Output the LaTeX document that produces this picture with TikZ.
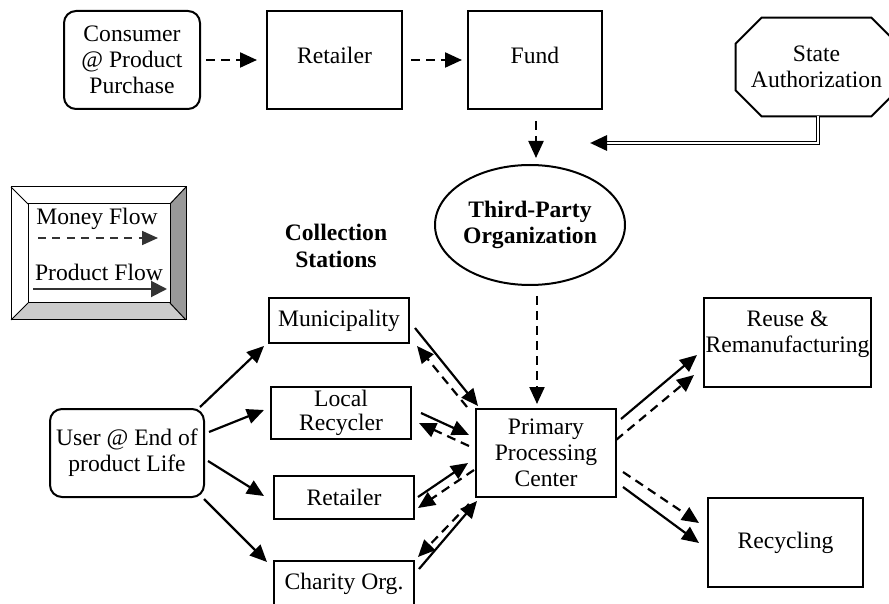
\documentclass[tikz,border=0pt]{standalone}
\usepackage{fontspec}
\setmainfont{Liberation Serif}
\usetikzlibrary{arrows.meta,calc,shapes.geometric}
\definecolor{legdark}{RGB}{153,153,153}
\definecolor{leglight}{RGB}{204,204,204}
\tikzset{
  box/.style={draw, line width=1pt, inner sep=0pt, align=center},
  rbox/.style={box, rounded corners=6pt},
  bigtip/.style={-{Triangle[length=8.5pt,width=7.5pt]}},
  prod/.style={bigtip, line width=1.1pt},
  money/.style={bigtip, line width=1.1pt, dash pattern=on 4.5pt off 3pt},
  legframe/.style={line width=0.5pt},
}
\begin{document}
\begin{tikzpicture}[x=0.5pt,y=-0.5pt, font=\fontsize{11.8}{13}\selectfont]
\useasboundingbox (0,0) rectangle (889,604);

% ---------- top row ----------
\node[rbox, minimum width=68pt, minimum height=49pt] (cons) at (132,60) {Consumer\\@ Product\\Purchase};
\node[box, minimum width=67.5pt, minimum height=49pt, text depth=5pt] (ret1) at (334.5,60) {Retailer};
\node[box, minimum width=67pt, minimum height=49pt, text depth=5pt] (fund) at (535,60) {Fund};

% State Authorization (octagon)
\node[inner sep=0pt, minimum width=80.5pt, minimum height=49pt, align=center] (state) at (816.5,67) {State\\Authorization};
\draw[line width=1pt]
  ([shift={(26,0)}]state.north west) -- ([shift={(-26,0)}]state.north east)
  -- ([shift={(0,26)}]state.north east) -- ([shift={(0,-26)}]state.south east)
  -- ([shift={(-26,0)}]state.south east) -- ([shift={(26,0)}]state.south west)
  -- ([shift={(0,-26)}]state.south west) -- ([shift={(0,26)}]state.north west) -- cycle;

% Third-party organization
\node[draw, line width=1pt, ellipse, inner sep=0pt, minimum width=95pt, minimum height=60pt, align=center, font=\fontsize{11.8}{13}\selectfont\bfseries] (ell) at (530,225) {Third-Party\\Organization};

% ---------- legend ----------
\fill[white] (11,187) rectangle (186,320);
\fill[legdark] (186,187) -- (186,320) -- (170,303) -- (170,204) -- cycle;
\fill[leglight] (11,320) -- (186,320) -- (170,303) -- (28,303) -- cycle;
\draw[legframe] (11,187) rectangle (186,320);
\draw[legframe] (28,204) rectangle (170,303);
\draw[legframe] (11,187) -- (28,204) (186,187) -- (170,204) (11,320) -- (28,303) (186,320) -- (170,303);
\node (legm) at (97,219) {Money Flow};
\node (legp) at (99,272) {Product Flow};
\coordinate (lm1) at (38,238); \coordinate (lm2) at (158,238);
\coordinate (lp1) at (33,289); \coordinate (lp2) at (167,289);
\draw[-{Triangle[length=8pt,width=7pt]}, line width=0.9pt, dash pattern=on 4pt off 3.2pt, black!80] (lm1) -- (lm2);
\draw[-{Triangle[length=8pt,width=8pt]}, line width=1pt, black!80] (lp1) -- (lp2);

% ---------- lower part ----------
\node[font=\fontsize{11.8}{13.5}\selectfont\bfseries, align=center] (coll) at (336,246) {Collection\\Stations};

\node[rbox, minimum width=77pt, minimum height=44pt] (user) at (127,453) {User @ End of\\product Life};
\node[box, minimum width=70pt, minimum height=22.5pt] (muni) at (339,320.5) {Municipality};
\node[box, minimum width=70pt, minimum height=26pt, font=\fontsize{11.8}{12}\selectfont] (loc) at (341,413) {Local\\Recycler};
\node[box, minimum width=70pt, minimum height=21.5pt] (ret2) at (344,497.5) {Retailer};
\node[box, minimum width=70pt, minimum height=23pt] (char) at (344,584) {Charity Org.};
\node[box, minimum width=70pt, minimum height=44pt] (prim) at (546,453) {Primary\\Processing\\Center};
\node[box, minimum width=83.5pt, minimum height=44.5pt] (reuse) at (787.5,342.5) {Reuse \&\\Remanufacturing\\[-2pt]};
\node[box, minimum width=77.5pt, minimum height=44.5pt] (recyc) at (785.5,542.5) {Recycling};

% ---------- money flow (top) ----------
\draw[money, shorten <=2.5pt, shorten >=4.5pt] (cons) -- (ret1);
\draw[money, shorten <=4pt, shorten >=2.5pt] (ret1) -- (fund);
\draw[money] ([shift={(1,11)}]fund.south) -- ([shift={(6,-6)}]ell.north);
\coordinate (satip) at ([shift={(60,-21)}]ell.north);
\coordinate (sajoint) at ([shift={(16,0)}]satip);
\draw[double, double distance=1.3pt, line width=0.5pt] ([shift={(1.5,0)}]state.south) |- (sajoint);
\draw[-{Triangle[length=8.5pt,width=7.5pt]}, line width=1.5pt] (sajoint) -- (satip);
\draw[money] ([shift={(7,10)}]ell.south) -- ([shift={(-9,-4)}]prim.north);

% ---------- user to collection ----------
\draw[prod] ([shift={(-5,-1)}]user.north east) -- ([shift={(-4,2)}]muni.south west);
\draw[prod] ([shift={(4,-21)}]user.east) -- ([shift={(-6,-3)}]loc.west);
\draw[prod] ([shift={(3,8)}]user.east) -- ([shift={(-9,-1.5)}]ret2.west);
\draw[prod] ([shift={(-1,1)}]user.south east) -- ([shift={(-6,2)}]char.north west);

% ---------- collection <-> primary ----------
\draw[prod] ([shift={(5,7.5)}]muni.east) -- ([shift={(3,-2)}]prim.north west);
\draw[money] ([shift={(-8,-1)}]prim.north west) -- ([shift={(7,2)}]muni.south east);
\draw[prod] ([shift={(9,0)}]loc.east) -- ([shift={(-6,-18)}]prim.west);
\draw[money] ([shift={(-6,-7)}]prim.west) -- ([shift={(7,10)}]loc.east);
\draw[prod] ([shift={(3,-0.5)}]ret2.east) -- ([shift={(-7,10)}]prim.west);
\draw[money] ([shift={(-1,17)}]prim.west) -- ([shift={(3,10.5)}]ret2.east);
\draw[money] ([shift={(-6,6)}]prim.south west) -- ([shift={(3,-3)}]char.north east);
\draw[prod] ([shift={(4,9)}]char.north east) -- ([shift={(2,3)}]prim.south west);

% ---------- primary to outputs ----------
\draw[prod] ([shift={(4,11)}]prim.north east) -- ([shift={(-6,12.5)}]reuse.west);
\draw[money] ([shift={(-1,-13)}]prim.east) -- ([shift={(-9,32.5)}]reuse.west);
\draw[money] ([shift={(6,19)}]prim.east) -- ([shift={(-8,-19.5)}]recyc.west);
\draw[prod] ([shift={(6,34)}]prim.east) -- ([shift={(-8,0.5)}]recyc.west);
\end{tikzpicture}
\end{document}
